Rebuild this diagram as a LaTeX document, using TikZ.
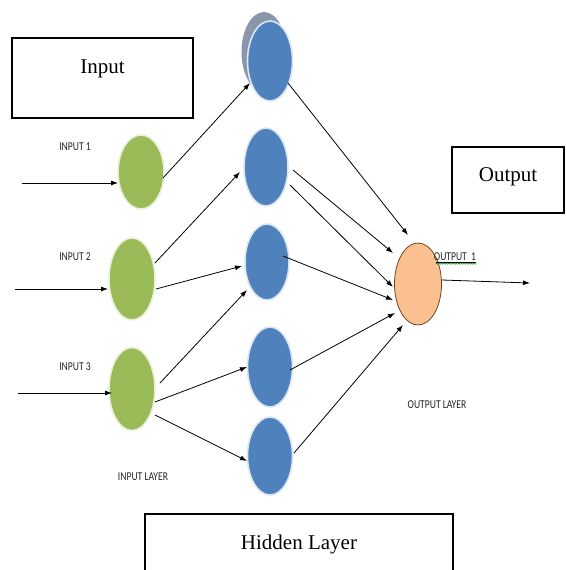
\documentclass[tikz,border=0pt]{standalone}
\usepackage{fontspec}
\setmainfont{Liberation Serif}
\newfontfamily\lab[FakeStretch=0.8]{Carlito}
\usetikzlibrary{shapes.geometric,arrows.meta,calc,decorations.pathmorphing}
\definecolor{ngreen}{RGB}{155,187,89}
\definecolor{ngreenb}{RGB}{232,240,218}
\definecolor{nblue}{RGB}{79,129,189}
\definecolor{nblueb}{RGB}{218,230,244}
\definecolor{norange}{RGB}{250,192,144}
\definecolor{norangeb}{RGB}{110,70,40}
\definecolor{shadowgray}{RGB}{138,150,170}
\begin{document}
\begin{tikzpicture}[x=1pt,y=-1pt,
  neuron/.style={ellipse, inner sep=0pt, line width=1.6pt},
  inn/.style={neuron, fill=ngreen, draw=ngreenb},
  hid/.style={neuron, fill=nblue, draw=nblueb},
  outn/.style={neuron, fill=norange, draw=norangeb, line width=0.8pt},
  conn/.style={line width=0.8pt, -{Latex[length=7pt,width=5pt]}},
  lbl/.style={font=\lab\fontsize{12}{14}\selectfont, text=black!85, inner sep=0pt},
  titlebox/.style={draw, line width=1.3pt, inner sep=0pt, font=\fontsize{21}{25}\selectfont}
]
\useasboundingbox (0,0) rectangle (566,570);
\clip (0,0) rectangle (566,570);

% title boxes
\node[titlebox, minimum width=181pt, minimum height=80pt, text depth=22pt] (inbox) at (102.5,78) {Input};
\node[titlebox, minimum width=112pt, minimum height=66pt, text depth=10pt] (outbox) at (508,180) {Output};
\node[titlebox, minimum width=308pt, minimum height=80pt, text depth=22.6pt] (hidbox) at (299,554) {Hidden Layer};

% input layer
\node[inn, minimum width=46pt, minimum height=74pt] (i1) at (141,172) {};
\node[inn, minimum width=46pt, minimum height=82pt] (i2) at (132,279) {};
\node[inn, minimum width=46pt, minimum height=83pt] (i3) at (132,389) {};

% hidden layer
\node[neuron, fill=shadowgray, draw=none, minimum width=45pt, minimum height=80pt] (h1s) at (264,52) {};
\node[hid, minimum width=45pt, minimum height=80pt] (h1) at (270,61) {};
\node[hid, minimum width=44pt, minimum height=78pt] (h2) at (266,167) {};
\node[hid, minimum width=44pt, minimum height=76pt] (h3) at (267,262) {};
\node[hid, minimum width=45pt, minimum height=80pt] (h4) at (270,367) {};
\node[hid, minimum width=45pt, minimum height=78pt] (h5) at (270,456) {};

% output layer
\node[outn, minimum width=47pt, minimum height=82pt] (o) at (418,284) {};

% labels
\node[lbl] (l1) at (75,147) {INPUT 1};
\node[lbl] (l2) at (75,257) {INPUT 2};
\node[lbl] (l3) at (75,367) {INPUT 3};
\node[lbl] (lin) at (143,477) {INPUT LAYER};
\node[lbl] (lout) at (437,405) {OUTPUT LAYER};
\node[lbl] (lo) at (455,257) {OUTPUT\ \ 1};
\draw[line width=0.4pt] ($(lo.south west)+(2,1)$) -- ($(lo.south east)+(0,1)$);
\draw[green!55!black, line width=0.4pt, decorate, decoration={snake, amplitude=0.6pt, segment length=2.5pt}] ($(lo.south west)+(2,2.5)$) -- ($(lo.south east)+(0,2.5)$);

% input arrows
\coordinate (s1) at (22,183);
\coordinate (s2) at (15,289);
\coordinate (s3) at (18,393);
\draw[conn] (s1) -- ($(i1)+(-23,11)$);
\draw[conn] (s2) -- ($(i2)+(-24,10)$);
\draw[conn] (s3) -- ($(i3)+(-20,4)$);

% input -> hidden
\draw[conn] ($(i1)+(22,6)$) -- ($(h1)+(-20,22)$);
\draw[conn] ($(i2)+(23,-16)$) -- ($(h2)+(-26,5)$);
\draw[conn] ($(i2)+(24,10)$) -- ($(h3)+(-25,4)$);
\draw[conn] ($(i3)+(28,-6)$) -- ($(h3)+(-20,28)$);
\draw[conn] ($(i3)+(23,13)$) -- ($(h4)+(-23,0)$);
\draw[conn] ($(i3)+(23,26)$) -- ($(h5)+(-23,5)$);

% hidden -> output
\draw[conn] ($(h1)+(18,22)$) -- ($(o)+(-10,-49)$);
\draw[conn] ($(h2)+(27,3)$) -- ($(o)+(-25,-31)$);
\draw[conn] ($(h2)+(24,18)$) -- ($(o)+(-25,3)$);
\draw[conn] ($(h3)+(16,-6)$) -- ($(o)+(-25,16)$);
\draw[conn] ($(h4)+(20,3)$) -- ($(o)+(-23,29)$);
\draw[conn] ($(h5)+(24,-3)$) -- ($(o)+(-15,41)$);

% output arrow
\coordinate (oe) at (530,283);
\draw[conn] ($(o)+(24,-4)$) -- (oe);
\end{tikzpicture}
\end{document}
